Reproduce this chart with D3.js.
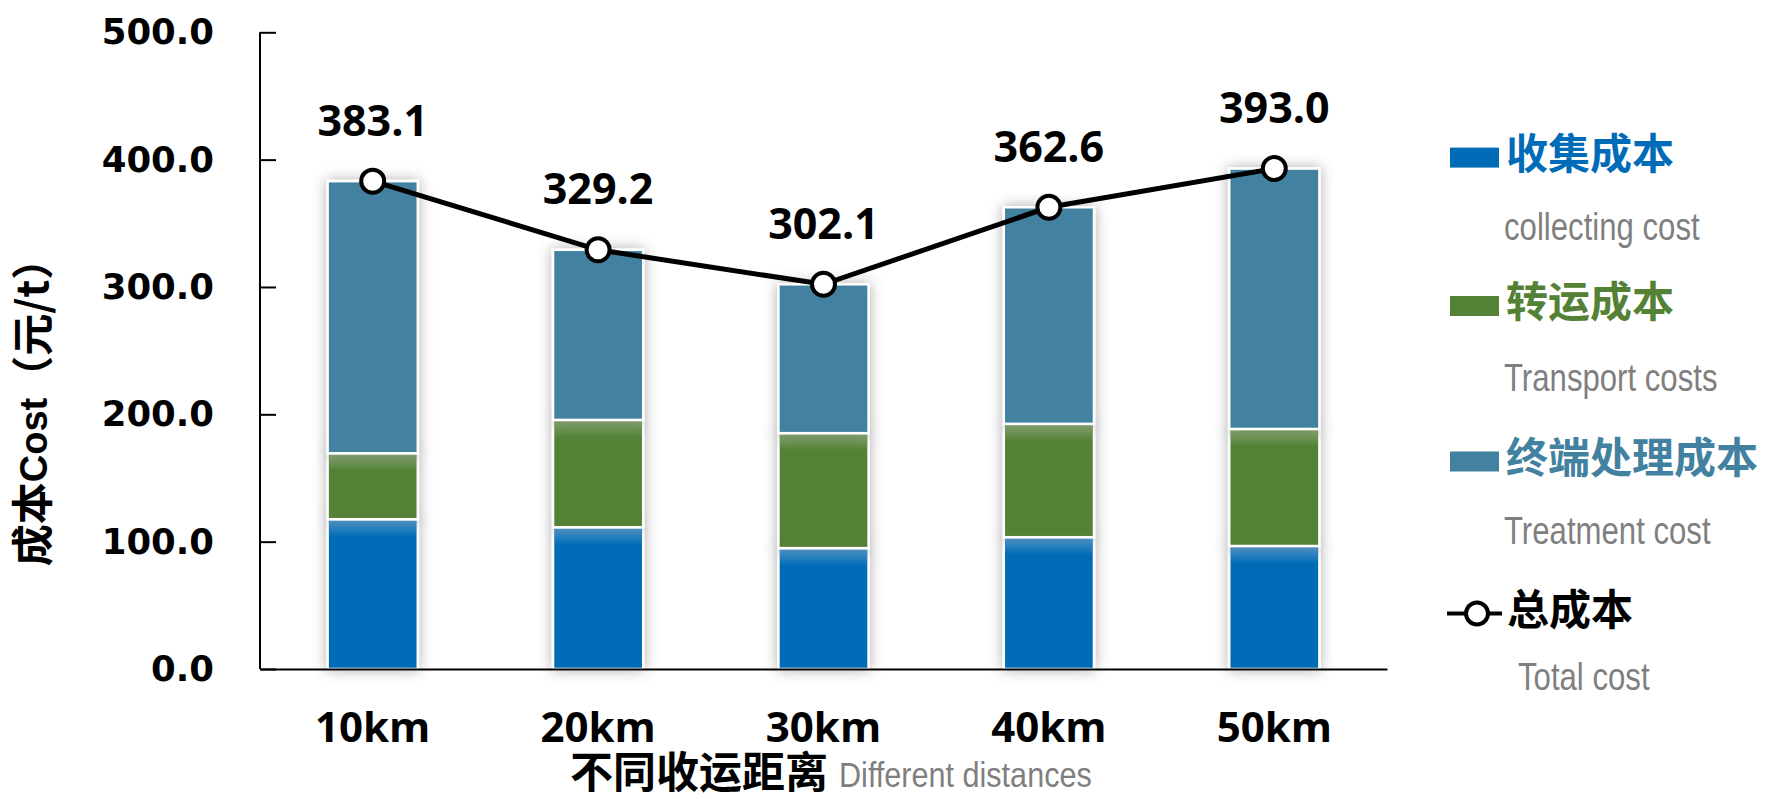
<!DOCTYPE html>
<html><head><meta charset="utf-8">
<script src="https://cdn.jsdelivr.net/npm/d3@7"></script>
<style>
html,body{margin:0;padding:0;background:#fff;}
svg{display:block;}
</style></head>
<body>
<svg id="chart" width="1765" height="799"></svg>
<script>
const categories = ["10km","20km","30km","40km","50km"];
const collecting = [117.6, 111.3, 94.9, 103.5, 96.6];
const transport = [51.8, 84.3, 90.3, 89.0, 91.9];
const treatment = [213.7, 133.6, 116.9, 170.1, 204.5];
const total = [383.1, 329.2, 302.1, 362.6, 393.0];
const yTicks = [0, 100, 200, 300, 400, 500];
const seriesNames = ["收集成本","转运成本","终端处理成本"];
const seriesEn = ["collecting cost","Transport costs","Treatment cost"];
const totalName = "总成本", totalEn = "Total cost";
const colors = ["#006cb7","#538135","#42819f"];

const svg = d3.select("#chart");
const defs = svg.append("defs");
const f = defs.append("filter").attr("id","glow").attr("x","-40%").attr("y","-40%").attr("width","180%").attr("height","180%");
f.append("feDropShadow").attr("dx",0).attr("dy",0).attr("stdDeviation",7).attr("flood-color","#000").attr("flood-opacity",0.32);
const g1 = defs.append("linearGradient").attr("id","topShine").attr("x1",0).attr("y1",0).attr("x2",0).attr("y2",1);
g1.append("stop").attr("offset","0%").attr("stop-color","#fff").attr("stop-opacity",0.3);
g1.append("stop").attr("offset","100%").attr("stop-color","#fff").attr("stop-opacity",0);

const x = d3.scaleBand().domain(categories).range([260,1387]).paddingInner(0.6).paddingOuter(0.3);
const y = d3.scaleLinear().domain([0,500]).range([669,32.3]);

const stackData = categories.map((c,i)=>({cat:c, s0:collecting[i], s1:transport[i], s2:treatment[i]}));
const stack = d3.stack().keys(["s0","s1","s2"])(stackData);

// bars
const layers = svg.append("g").selectAll("g").data(stack).join("g").attr("fill",(d,i)=>colors[i]);
layers.selectAll("rect.seg").data(d=>d).join("rect").attr("class","seg")
  .attr("x",d=>x(d.data.cat)).attr("width",x.bandwidth())
  .attr("y",d=>y(d[1])).attr("height",d=>y(d[0])-y(d[1]))
  .attr("stroke","#fff").attr("stroke-width",2.5).attr("filter","url(#glow)");
stack.slice(0,2).forEach(layer=>{
  svg.append("g").selectAll("rect").data(layer).join("rect")
    .attr("x",d=>x(d.data.cat)+1.5).attr("width",x.bandwidth()-3)
    .attr("y",d=>y(d[1])+1.5).attr("height",16).attr("fill","url(#topShine)");
});

// axes
const yAxis = d3.axisLeft(y).tickValues(yTicks).tickFormat(d3.format(".1f")).tickSize(-16).tickPadding(46);
const ya = svg.append("g").attr("transform","translate(260,0)").call(yAxis);
ya.select(".domain").attr("stroke","#000").attr("stroke-width",2).attr("d","M0,32.3V669");
ya.selectAll(".tick line").attr("stroke","#000").attr("stroke-width",2);
ya.selectAll(".tick text").attr("font-family","DejaVu Sans").attr("font-weight","bold").attr("font-size",35.5).attr("fill","#000");

const xAxis = d3.axisBottom(x).tickSize(0).tickPadding(0);
const xa = svg.append("g").attr("transform","translate(0,669)").call(xAxis);
xa.select(".domain").attr("stroke","#000").attr("stroke-width",2);
xa.selectAll(".tick text").attr("font-family","Open Sans").attr("font-weight","bold").attr("font-size",42).attr("fill","#000")
  .attr("dy",0).attr("y",62).attr("dominant-baseline","middle");

// total line
const cx = c => x(c)+x.bandwidth()/2;
const line = d3.line().x((d,i)=>cx(categories[i])).y(d=>y(d));
svg.append("path").datum(total).attr("d",line).attr("fill","none").attr("stroke","#000").attr("stroke-width",5);
svg.append("g").selectAll("circle").data(total).join("circle")
  .attr("cx",(d,i)=>cx(categories[i])).attr("cy",d=>y(d)).attr("r",11.5)
  .attr("fill","#fff").attr("stroke","#000").attr("stroke-width",4);
svg.append("g").selectAll("text").data(total).join("text")
  .attr("x",(d,i)=>cx(categories[i])).attr("y",d=>y(d)-57)
  .attr("text-anchor","middle").attr("dominant-baseline","middle")
  .attr("font-family","Open Sans").attr("font-weight","bold").attr("font-size",43).attr("fill","#000")
  .text(d=>d3.format(".1f")(d));

// narrow text helper (condensed look)
function narrow(parent, xp, yp, txt, size, color, sx){
  return parent.append("text").attr("transform",`translate(${xp},${yp}) scale(${sx||0.82},1)`)
    .attr("dominant-baseline","middle")
    .attr("font-family","Liberation Sans").attr("font-size",size).attr("fill",color).text(txt);
}

// y title
const yt = svg.append("text").attr("transform","translate(37,402) rotate(-90)")
  .attr("text-anchor","middle").attr("dominant-baseline","middle")
  .attr("font-family","Noto Sans CJK SC").attr("font-weight","bold").attr("font-size",42).attr("fill","#000");
yt.append("tspan").text("成本");
yt.append("tspan").attr("font-family","Liberation Sans").attr("font-size",38).text("Cost");
yt.append("tspan").text("（元/t）");

// x title
svg.append("text").attr("x",570).attr("y",776).attr("dominant-baseline","middle")
  .attr("font-family","Noto Sans CJK SC").attr("font-weight","bold").attr("font-size",43).attr("fill","#000").text("不同收运距离");
narrow(svg, 839, 777, "Different distances", 36, "#7f7f7f", 0.85);

// legend
const legY = [157.6, 306, 461.5];
const legEnY = [229.6, 380.5, 533.5];
const leg = svg.append("g");
seriesNames.forEach((n,i)=>{
  leg.append("rect").attr("x",1450).attr("y",legY[i]-10).attr("width",49).attr("height",20).attr("fill",colors[i]);
  leg.append("text").attr("x",1506).attr("y",legY[i]).attr("dominant-baseline","middle")
    .attr("font-family","Noto Sans CJK SC").attr("font-weight","bold").attr("font-size",42).attr("fill",colors[i]).text(n);
  narrow(leg, 1504, legEnY[i], seriesEn[i], 38, "#7f7f7f");
});
leg.append("line").attr("x1",1447).attr("x2",1502).attr("y1",613.5).attr("y2",613.5).attr("stroke","#000").attr("stroke-width",4);
leg.append("circle").attr("cx",1477).attr("cy",613.5).attr("r",11).attr("fill","#fff").attr("stroke","#000").attr("stroke-width",4);
leg.append("text").attr("x",1507).attr("y",613.5).attr("dominant-baseline","middle")
  .attr("font-family","Noto Sans CJK SC").attr("font-weight","bold").attr("font-size",42).attr("fill","#000").text(totalName);
narrow(leg, 1518, 680, totalEn, 38, "#7f7f7f");
</script>
</body></html>
